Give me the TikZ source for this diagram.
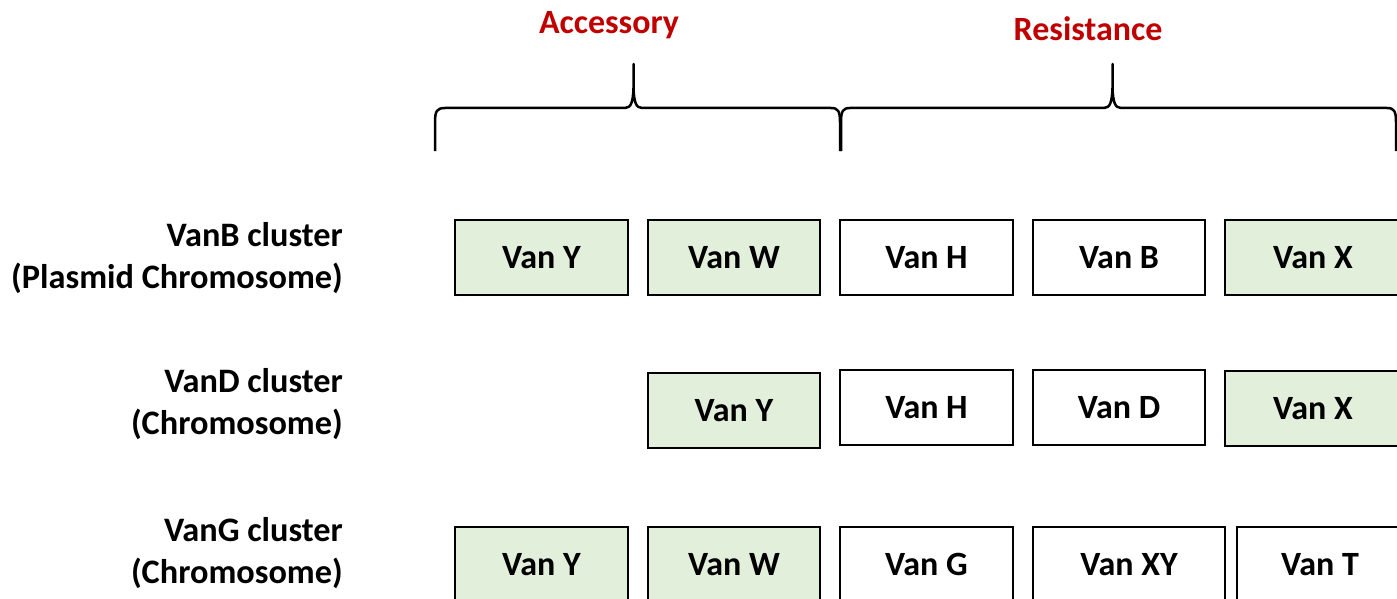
\documentclass[tikz,border=0pt]{standalone}
\usepackage{fontspec}
\setmainfont{Carlito}
\definecolor{boxgreen}{HTML}{E2EFDA}
\definecolor{titlered}{HTML}{C00000}
\tikzset{
  gene/.style={draw=black, line width=2pt, minimum height=75pt, inner sep=0pt,
    font=\fontsize{34}{40}\selectfont\bfseries},
  acc/.style={gene, fill=boxgreen},
  res/.style={gene, fill=white},
  clabel/.style={align=right, anchor=east, inner sep=0pt,
    font=\fontsize{34.3}{42}\selectfont\bfseries},
  title/.style={text=titlered, anchor=base, inner sep=0pt,
    font=\fontsize{34}{40}\selectfont\bfseries},
  bracepath/.style={line width=2.5pt, line cap=butt, line join=round}
}
\begin{document}
\begin{tikzpicture}[x=1pt,y=-1pt]
\useasboundingbox (0,0) rectangle (1397,599);
\clip (0,0) rectangle (1397,599);
\fill[white] (0,0) rectangle (1397,599);

% titles
\node[title] (tacc) at (609,34) {Accessory};
\node[title] (tres) at (1088,41) {Resistance};

% braces
\draw[bracepath] (435,151) -- (435,122)
  .. controls (435,111) and (437,108) .. (445,108) -- (625,108)
  .. controls (631,108) and (633,102) .. (633.5,88) -- (633.5,64)
  -- (633.5,88) .. controls (634,102) and (636,108) .. (642,108) -- (831,108)
  .. controls (838,108) and (840,111) .. (840,122) -- (840,151);
\draw[bracepath] (841,151) -- (841,122)
  .. controls (841,111) and (843,108) .. (850,108) -- (1104,108)
  .. controls (1110,108) and (1112,102) .. (1112.5,88) -- (1112.5,64)
  -- (1112.5,88) .. controls (1113,102) and (1115,108) .. (1121,108) -- (1387,108)
  .. controls (1394,108) and (1396,111) .. (1396,122) -- (1396,151);

% row labels
\node[clabel] (lb) at (343,258) {VanB cluster\\(Plasmid Chromosome)};
\node[clabel] (ld) at (343,404) {VanD cluster\\(Chromosome)};
\node[clabel] (lg) at (343,553.5) {VanG cluster\\(Chromosome)};

% row 1: VanB
\node[acc, minimum width=173pt] (b1) at (541.5,257.5) {Van Y};
\node[acc, minimum width=172pt] (b2) at (734,257.5) {Van W};
\node[res, minimum width=173pt] (b3) at (926.5,257.5) {Van H};
\node[res, minimum width=172pt] (b4) at (1119,257.5) {Van B};
\node[acc, minimum width=176pt] (b5) at (1313,257.5) {Van X};

% row 2: VanD
\node[acc, minimum width=172pt] (d1) at (734,410.5) {Van Y};
\node[res, minimum width=173pt] (d2) at (926.5,407.5) {Van H};
\node[res, minimum width=172pt] (d3) at (1119,407.5) {Van D};
\node[acc, minimum width=176pt] (d4) at (1313,408.5) {Van X};

% row 3: VanG
\node[acc, minimum width=173pt] (g1) at (541.5,564.5) {Van Y};
\node[acc, minimum width=172pt] (g2) at (734,564.5) {Van W};
\node[res, minimum width=173pt] (g3) at (926.5,564.5) {Van G};
\node[res, minimum width=192pt] (g4) at (1129,564.5) {Van XY};
\node[res, minimum width=166pt] (g5) at (1320,564.5) {Van T};
\end{tikzpicture}
\end{document}
